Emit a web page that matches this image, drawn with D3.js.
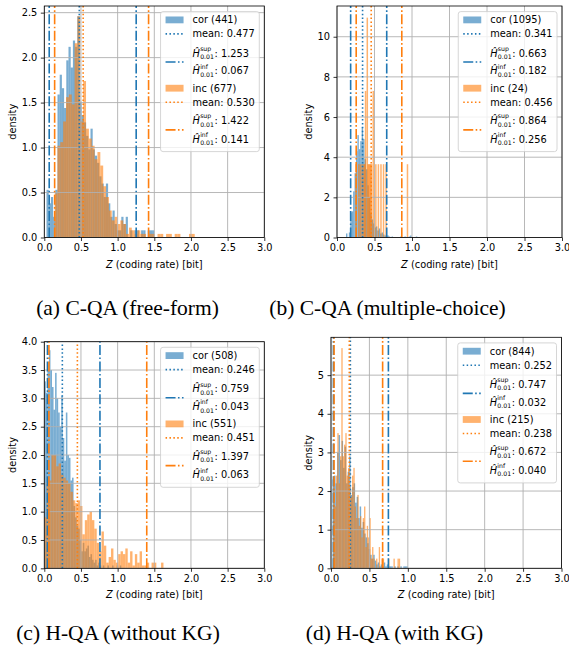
<!DOCTYPE html>
<html><head><meta charset="utf-8">
<script src="https://cdn.jsdelivr.net/npm/d3@7"></script>
<style>body{margin:0;background:#fff}</style>
</head><body>
<svg id="chart" width="569" height="653" xmlns="http://www.w3.org/2000/svg"></svg>
<script>
// ---------------- data ----------------
const xTickValues = [0, 0.5, 1, 1.5, 2, 2.5, 3];
const seriesNames = ["cor", "inc"];
const captions = ["(a) C-QA (free-form)", "(b) C-QA (multiple-choice)", "(c) H-QA (without KG)", "(d) H-QA (with KG)"];

// (a) C-QA free-form
const aYTicks = [0, 0.5, 1, 1.5, 2, 2.5];
const aCounts = [441, 677];
const aMeans = [0.477, 0.530];
const aSup = [1.253, 1.422];
const aInf = [0.067, 0.141];
const aCorStart = 0.03, aCorWidth = 0.03;
const aCorDensity = [0.53,0.38,0.45,0.23,0.53,1.59,1.81,1.66,1.44,1.97,2.12,1.89,2.19,2.12,2.46,1.51,1.36,1.28,1.13,0.98,1.21,0.98,0.91,0.83,0.68,0.60,0.45,0.60,0.38,0.23,0.30,0.15,0.08,0.08,0.23,0.15,0.23,0,0.08,0,0.08,0.08,0,0.08,0.08,0,0.08,0.08,0.08];
const aIncStart = 0.14, aIncWidth = 0.039;
const aIncDensity = [0.49,1.02,1.06,1.29,1.56,1.59,1.48,2.16,2.46,1.29,1.74,1.21,1.10,1.02,0.87,0.95,0.80,0.57,0.45,0.30,0.19,0.23,0.15,0.19,0.15,0.04,0.11,0.08,0.04,0.08,0.04,0.04,0,0.04,0.04,0,0.04,0.04,0,0.04,0.04,0,0.04,0.04,0,0,0,0.04,0.04];

// (b) C-QA multiple-choice
const bYTicks = [0, 2, 4, 6, 8, 10];
const bCounts = [1095, 24];
const bMeans = [0.341, 0.456];
const bSup = [0.663, 0.864];
const bInf = [0.182, 0.256];
const bCorStart = 0.12, bCorWidth = 0.019;
const bCorDensity = [0.2,0,0.25,1.25,1.3,2.3,3.2,4.3,5.1,4.4,4.8,5.5,4.9,3.9,3.4,2.6,2.0,1.2,0.9,0.7,0.5,0.55,0.35,0.45,0.2,0.25,0.15,0.1,0.1,0.1,0.05,0,0.05,0,0,0,0,0,0.05,0,0,0.05,0,0,0.05,0.1,0,0,0,0.05];
const bIncStart = 0.25, bIncWidth = 0.0114;
const bIncDensity = [3.65,0,0,3.65,0,3.65,0,3.65,0,3.65,
  3.65,7.3,0,10.95,3.65,3.65,3.65,3.65,3.65,0,
  7.3,0,0,3.65,0,0,3.65,0,0,3.65,
  0,0,3.65,0,0,3.65,0,0,0,0,
  0,0,0,0,0,0,0,0,0,0,
  0,0,0,0,0,0,0,0,0,0,
  3.65];

// (c) H-QA without KG
const cYTicks = [0, 0.5, 1, 1.5, 2, 2.5, 3, 3.5, 4];
const cCounts = [508, 551];
const cMeans = [0.246, 0.451];
const cSup = [0.759, 1.397];
const cInf = [0.043, 0.063];
const cCorStart = 0.0, cCorWidth = 0.021;
const cCorDensity = [3.3,3.1,3.5,3.85,3.5,3.2,2.8,3.45,3.0,2.75,2.5,3.05,2.3,1.9,2.75,2.0,1.95,1.55,1.6,1.1,0.9,0.75,0.7,0.5,0.3,0.45,0.3,0.35,0.4,0.2,0.25,0.15,0.1,0.15,0.05,0.1,0.05,0,0.05,0,0,0.05,0,0,0.05,0,0,0.05,0,0.05];
const cIncStart = 0.0, cIncWidth = 0.0325;
const cIncDensity = [0.9,1.5,1.55,2.0,2.0,1.8,1.85,1.65,1.6,1.55,1.5,1.35,1.2,1.15,1.2,1.1,0.6,0.85,0.95,1.0,0.85,0.7,0.45,0.3,0.65,0.4,0.1,0.2,0.35,0.15,0.1,0.25,0.3,0.25,0.35,0.1,0.3,0.05,0.25,0.1,0.3,0.05,0.05,0.1,0,0.1,0.1,0,0,0.1];

// (d) H-QA with KG
const dYTicks = [0, 1, 2, 3, 4, 5];
const dCounts = [844, 215];
const dMeans = [0.252, 0.238];
const dSup = [0.747, 0.672];
const dInf = [0.032, 0.040];
const dCorStart = 0.02, dCorWidth = 0.0196;
const dCorDensity = [2.3,2.4,2.2,3.0,3.45,2.8,3.3,2.6,3.15,2.2,2.5,2.9,1.9,2.1,2.2,1.7,1.85,1.3,1.6,1.05,1.2,0.9,0.8,0.65,0.5,0.35,0.25,0.35,0.2,0.1,0.15,0.05,0.1,0.05,0.15,0.05,0.1,0.05,0.05,0.05,0,0.05,0,0.05,0,0.05,0,0.05,0.05,0.05];
const dIncStart = 0.03, dIncWidth = 0.0174;
const dIncDensity = [2.3,1.6,2.4,3.5,2.2,2.9,5.7,2.9,3.2,3.5,2.4,2.6,2.1,1.85,2.4,2.6,1.6,1.3,1.9,1.1,1.35,0.8,1.3,1.6,0.55,1.1,0.8,1.3,0.25,0.55,0.25,0,0.25,0,0.55,0,0.25,0.25,0,0,0,0.25,0,0,0,0.25,0,0,0.25,0.25];

// ---------------- styling / layout ----------------
const colors = ["#1f77b4", "#ff7f0e"];
const FONT = "DejaVu Sans";
const FS = 9.8;

const panels = [
  {x0:44.3, x1:264.3, y0:6, y1:237.5, ymax:2.574, yTicks:aYTicks, yFmt:".1f", ylabX:12.7,
   counts:aCounts, means:aMeans, sups:aSup, infs:aInf, cap:captions[0], capX:127.5, capY:315,
   bars:[{start:aCorStart,width:aCorWidth,density:aCorDensity},{start:aIncStart,width:aIncWidth,density:aIncDensity}]},
  {x0:337, x1:562, y0:6, y1:237.5, ymax:11.53, yTicks:bYTicks, yFmt:"d", ylabX:308.3,
   counts:bCounts, means:bMeans, sups:bSup, infs:bInf, cap:captions[1], capX:387.5, capY:315,
   bars:[{start:bCorStart,width:bCorWidth,density:bCorDensity},{start:bIncStart,width:bIncWidth,density:bIncDensity,minPx:1.5}]},
  {x0:44.3, x1:264.3, y0:341.7, y1:568.3, ymax:4.0, yTicks:cYTicks, yFmt:".1f", ylabX:12.7,
   counts:cCounts, means:cMeans, sups:cSup, infs:cInf, cap:captions[2], capX:118, capY:640,
   bars:[{start:cCorStart,width:cCorWidth,density:cCorDensity},{start:cIncStart,width:cIncWidth,density:cIncDensity}]},
  {x0:331, x1:561.5, y0:337.3, y1:568.3, ymax:5.98, yTicks:dYTicks, yFmt:"d", ylabX:308.3,
   counts:dCounts, means:dMeans, sups:dSup, infs:dInf, cap:captions[3], capX:394.5, capY:640,
   bars:[{start:dCorStart,width:dCorWidth,density:dCorDensity},{start:dIncStart,width:dIncWidth,density:dIncDensity}]}
];

const svg = d3.select("#chart");
svg.append("rect").attr("width",569).attr("height",653).attr("fill","#fff");

const DOT = "1.5,2.4";
const DASHDOT = "10,2.4,1.6,2.4";

function drawPanel(p) {
  const g = svg.append("g");
  const xs = d3.scaleLinear().domain([0, 3]).range([p.x0, p.x1]);
  const ys = d3.scaleLinear().domain([0, p.ymax]).range([p.y1, p.y0]);

  // histogram bars
  p.bars.forEach((s, si) => {
    const bins = s.density.map((d, i) => ({a: s.start + i * s.width, b: s.start + (i + 1) * s.width, d}))
      .filter(b => b.d > 0);
    g.append("g").selectAll("rect").data(bins).join("rect")
      .attr("x", b => { const w = xs(b.b) - xs(b.a); const mw = Math.max(w, s.minPx || 0); return (xs(b.a) + xs(b.b)) / 2 - mw / 2; })
      .attr("width", b => Math.max(xs(b.b) - xs(b.a), s.minPx || 0))
      .attr("y", b => ys(b.d))
      .attr("height", b => ys(0) - ys(b.d))
      .attr("fill", colors[si]).attr("fill-opacity", 0.6);
  });

  // grid
  const grid = g.append("g").attr("stroke", "#b0b0b0").attr("stroke-width", 0.9);
  xTickValues.forEach(v => grid.append("line").attr("x1", xs(v)).attr("x2", xs(v)).attr("y1", p.y0).attr("y2", p.y1));
  p.yTicks.forEach(v => grid.append("line").attr("x1", p.x0).attr("x2", p.x1).attr("y1", ys(v)).attr("y2", ys(v)));

  // vertical reference lines
  p.bars.forEach((s, si) => {
    const lines = [[p.means[si], DOT], [p.sups[si], DASHDOT], [p.infs[si], DASHDOT]];
    lines.forEach(([v, dash]) => {
      g.append("line").attr("x1", xs(v)).attr("x2", xs(v)).attr("y1", p.y1).attr("y2", p.y0)
        .attr("stroke", colors[si]).attr("stroke-width", 1.6).attr("stroke-dasharray", dash);
    });
  });

  // axes
  const xa = g.append("g").attr("transform", `translate(0,${p.y1})`)
    .call(d3.axisBottom(xs).tickValues(xTickValues).tickFormat(d3.format(".1f")).tickSize(3.5).tickPadding(3.5));
  const ya = g.append("g").attr("transform", `translate(${p.x0},0)`)
    .call(d3.axisLeft(ys).tickValues(p.yTicks).tickFormat(d3.format(p.yFmt)).tickSize(3.5).tickPadding(3.5));
  [xa, ya].forEach(a => {
    a.select(".domain").remove();
    a.attr("font-family", FONT).attr("font-size", FS);
    a.selectAll("line").attr("stroke", "#000").attr("stroke-width", 0.8);
    a.selectAll("text").attr("fill", "#000");
  });

  // spines
  g.append("rect").attr("x", p.x0).attr("y", p.y0).attr("width", p.x1 - p.x0).attr("height", p.y1 - p.y0)
    .attr("fill", "none").attr("stroke", "#000").attr("stroke-width", 0.8);

  // axis labels
  const xl = g.append("text").attr("x", (p.x0 + p.x1) / 2).attr("y", p.y1 + 30)
    .attr("text-anchor", "middle").attr("font-family", FONT).attr("font-size", FS);
  xl.append("tspan").attr("font-style", "italic").text("Z");
  xl.append("tspan").text(" (coding rate) [bit]");
  g.append("text").attr("transform", `translate(${p.ylabX + 3.5},${(p.y0 + p.y1) / 2}) rotate(-90)`)
    .attr("text-anchor", "middle").attr("font-family", FONT).attr("font-size", FS).text("density");

  // legend
  const lg = g.append("g").attr("font-family", FONT).attr("font-size", FS).attr("fill", "#000");
  const rows = [8.3, 22.3, 41.6, 59.3, 76.6, 90.6, 109, 127.6];
  const TX = 32;
  const widths = [];
  p.bars.forEach((s, si) => {
    const o = si * 4;
    lg.append("rect").attr("x", 5).attr("y", rows[o] - 3.4).attr("width", 18).attr("height", 6.8)
      .attr("fill", colors[si]).attr("fill-opacity", 0.6);
    const t1 = lg.append("text").attr("x", TX).attr("y", rows[o] + 3.4).text(`${seriesNames[si]} (${p.counts[si]})`);
    widths.push(t1.node().getComputedTextLength());
    lg.append("line").attr("x1", 5).attr("x2", 23).attr("y1", rows[o + 1]).attr("y2", rows[o + 1])
      .attr("stroke", colors[si]).attr("stroke-width", 1.6).attr("stroke-dasharray", DOT);
    const t2 = lg.append("text").attr("x", TX).attr("y", rows[o + 1] + 3.4).text(`mean: ${p.means[si].toFixed(3)}`);
    widths.push(t2.node().getComputedTextLength());
    const hy = (rows[o + 2] + rows[o + 3]) / 2;
    lg.append("line").attr("x1", 5).attr("x2", 23).attr("y1", hy).attr("y2", hy)
      .attr("stroke", colors[si]).attr("stroke-width", 1.6).attr("stroke-dasharray", DASHDOT);
    [["sup", p.sups[si], rows[o + 2]], ["inf", p.infs[si], rows[o + 3]]].forEach(([lab, val, cy]) => {
      const base = cy + 3.4;
      lg.append("text").attr("x", TX).attr("y", base).attr("font-style", "italic").text("Ĥ");
      const sx = TX + 7.6;
      const s1 = lg.append("text").attr("x", sx).attr("y", base - 5.6).attr("font-size", 6.2).text(lab);
      const s2 = lg.append("text").attr("x", sx).attr("y", base + 2.6).attr("font-size", 6.2).text("0.01");
      const w = Math.max(s1.node().getComputedTextLength(), s2.node().getComputedTextLength());
      const t = lg.append("text").attr("x", sx + w + 0.6).attr("y", base).text(`: ${val.toFixed(3)}`);
      widths.push(sx + w + 0.6 - TX + t.node().getComputedTextLength());
    });
  });
  const W = TX + d3.max(widths) + 4.5, H = 140;
  lg.insert("rect", ":first-child").attr("x", 0).attr("y", 0).attr("width", W).attr("height", H)
    .attr("rx", 2.5).attr("fill", "#fff").attr("fill-opacity", 0.8).attr("stroke", "#cccccc").attr("stroke-width", 0.8);
  lg.attr("transform", `translate(${p.x1 - 5 - W},${p.y0 + 5.6})`);

  // caption
  svg.append("text").attr("x", p.capX).attr("y", p.capY).attr("text-anchor", "middle")
    .attr("font-family", "Liberation Serif").attr("font-size", 21.5).attr("fill", "#000").text(p.cap);
}

panels.forEach(drawPanel);
</script>
</body></html>
